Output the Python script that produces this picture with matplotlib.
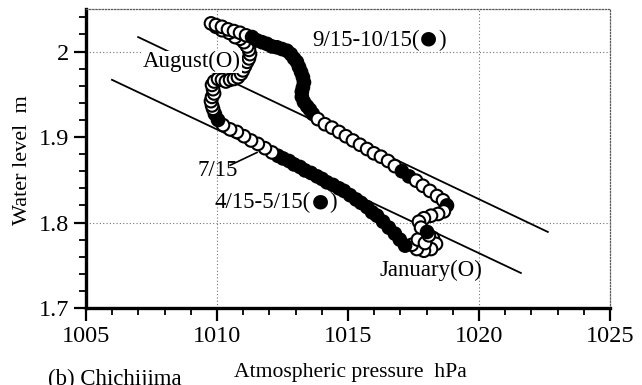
import matplotlib
matplotlib.use("Agg")
import matplotlib.pyplot as plt
import numpy as np
from matplotlib.ticker import MultipleLocator

# ---- data ----
# ordered daily positions of the annual loop
pressure = [
    # January cluster
    1018.24, 1018.36, 1018.17, 1017.90, 1017.63, 1017.44, 1017.67, 1017.94, 1018.09,
    # lower path (filled)
    1017.18, 1016.98, 1016.79, 1016.56, 1016.34, 1016.11, 1015.92, 1015.73, 1015.50,
    1015.31, 1015.08, 1014.85, 1014.66, 1014.43, 1014.20, 1014.01, 1013.82, 1013.59,
    1013.36, 1013.17, 1012.94, 1012.75, 1012.52, 1012.33,
    # lower path (open) toward 7/15
    1012.10, 1011.83, 1011.56, 1011.30, 1011.03, 1010.76, 1010.50, 1010.23,
    1010.04, 1009.92,
    # August band
    1009.85, 1009.81, 1009.77, 1009.81, 1009.89, 1009.85, 1009.81, 1009.89, 1010.04,
    1010.19, 1010.34, 1010.50, 1010.65, 1010.80, 1010.92, 1010.99, 1011.07, 1011.15,
    1011.22, 1011.26, 1011.22, 1011.15, 1011.03, 1010.88, 1010.69,
    1010.46, 1010.19, 1009.96,
    # top row
    1009.77, 1009.96, 1010.19, 1010.42, 1010.65, 1010.88, 1011.11,
    # 9/15-10/15 (filled)
    1011.34, 1011.53, 1011.72, 1011.91, 1012.10, 1012.29, 1012.48, 1012.67, 1012.82,
    1012.94, 1013.05, 1013.13, 1013.21, 1013.28, 1013.32, 1013.28, 1013.24, 1013.24,
    1013.32, 1013.44, 1013.55, 1013.66,
    # autumn/winter (open)
    1013.85, 1014.12, 1014.39, 1014.66, 1014.92, 1015.19, 1015.46, 1015.73, 1015.99,
    1016.26, 1016.53, 1016.79, 1017.06, 1017.33, 1017.60, 1017.86, 1018.13, 1018.40,
    1018.63, 1018.78, 1018.66, 1018.44, 1018.17, 1017.90, 1017.71, 1017.79, 1018.02,
]
water_level = [
    1.782, 1.775, 1.769, 1.767, 1.769, 1.774, 1.780, 1.776, 1.785,
    1.773, 1.780, 1.787, 1.794, 1.801, 1.808, 1.812, 1.818, 1.823,
    1.827, 1.832, 1.837, 1.840, 1.844, 1.847, 1.851, 1.854, 1.858,
    1.861, 1.865, 1.868, 1.872, 1.875, 1.878,
    1.882, 1.887, 1.892, 1.896, 1.901, 1.906, 1.909, 1.914,
    1.920, 1.927,
    1.933, 1.937, 1.942, 1.947, 1.951, 1.956, 1.961, 1.965, 1.968,
    1.967, 1.965, 1.967, 1.968, 1.970, 1.974, 1.978, 1.983, 1.988,
    1.992, 1.997, 2.002, 2.006, 2.011, 2.015, 2.017,
    2.022, 2.025, 2.029,
    2.033, 2.031, 2.029, 2.026, 2.024, 2.022, 2.019,
    2.017, 2.013, 2.011, 2.009, 2.006, 2.005, 2.003, 2.001, 1.997,
    1.992, 1.988, 1.982, 1.976, 1.970, 1.964, 1.958, 1.953, 1.947,
    1.941, 1.936, 1.932, 1.927,
    1.921, 1.915, 1.911, 1.906, 1.901, 1.896, 1.891, 1.886, 1.881,
    1.877, 1.872, 1.866, 1.860, 1.854, 1.849, 1.843, 1.837, 1.831,
    1.826, 1.820, 1.813, 1.810, 1.808, 1.805, 1.801, 1.794, 1.789,
]
filled = (
    [0] * 9 +
    [1] * 24 +
    [0] * 8 + [1] * 2 +
    [0] * 28 +
    [0] * 7 +
    [1] * 22 +
    [0] * 12 + [1, 1] + [0] * 5 + [1] + [0] * 6 + [1]
)

# reference lines (end points)
line_upper_p = [1006.99, 1022.63]
line_upper_w = [2.017, 1.789]
line_lower_p = [1005.99, 1021.60]
line_lower_w = [1.967, 1.741]

xticks = [1005, 1010, 1015, 1020, 1025]
yticks = [1.7, 1.8, 1.9, 2.0]

FONT = ['Liberation Serif', 'DejaVu Sans']
plt.rcParams['font.family'] = FONT

fig = plt.figure(figsize=(6.42, 3.85), dpi=100)
ax = fig.add_axes([0.134, 0.2, 0.816, 0.777])
ax.set_xlim(1005, 1025)
ax.set_ylim(1.7, 2.05)

# dotted grid lines
for gx in [1010, 1020]:
    ax.axvline(gx, color='0.45', lw=0.8, ls=(0, (1, 2)), zorder=0.5)
for gy in [1.8, 2.0]:
    ax.axhline(gy, color='0.45', lw=0.8, ls=(0, (1, 2)), zorder=0.5)

# straight lines
ax.plot(line_upper_p, line_upper_w, color='black', lw=1.3, zorder=1)
ax.plot(line_lower_p, line_lower_w, color='black', lw=1.3, zorder=1)

# data loop
fc = ['black' if f else 'white' for f in filled]
ax.scatter(pressure, water_level, s=82, facecolors=fc, edgecolors='black',
           linewidths=1.5, zorder=2)

# annotations
fs_ann = 16.5


def label_with_disc(x, y, pre, disc, post):
    t1 = ax.text(x, y, pre, fontsize=fs_ann, ha='left', va='center', zorder=4)
    t2 = ax.annotate(disc, xy=(1, 0.5), xycoords=t1, xytext=(0.5, 1.5),
                     textcoords='offset points', fontsize=fs_ann * 0.85,
                     ha='left', va='center', family=['DejaVu Sans'], zorder=4)
    ax.annotate(post, xy=(1, 0.5), xycoords=t2, xytext=(0.5, -1.5),
                textcoords='offset points', fontsize=fs_ann,
                ha='left', va='center', zorder=4)
    return t1


ax.text(1007.18, 1.988, 'August(O)', fontsize=fs_ann, ha='left', va='center', zorder=4,
        bbox=dict(facecolor='white', edgecolor='none', pad=0.5))
label_with_disc(1013.63, 2.013, '9/15-10/15(', '●', ')')
label_with_disc(1009.92, 1.823, '4/15-5/15(', '●', ')')
ax.text(1009.27, 1.861, '7/15', fontsize=fs_ann, ha='left', va='center', zorder=4)
ax.plot([1010.50, 1011.53], [1.867, 1.882], color='black', lw=1.2, zorder=3)
ax.text(1016.22, 1.744, 'January(O)', fontsize=fs_ann, ha='left', va='center', zorder=4)

# axes styling
fs_tick = 17.5
ax.set_xticks(xticks)
ax.set_yticks(yticks)
ax.set_xticklabels([str(v) for v in xticks])
ax.set_yticklabels(['1.7', '1.8', '1.9', '2'])
ax.xaxis.set_minor_locator(MultipleLocator(1))
ax.yaxis.set_minor_locator(MultipleLocator(0.02))
ax.tick_params(which='major', direction='out', length=9, width=1.6,
               labelsize=fs_tick, top=False, right=False)
ax.tick_params(which='minor', direction='out', length=5, width=1.3,
               top=False, right=False)
ax.tick_params(axis='x', which='major', pad=4)
ax.tick_params(axis='y', which='major', pad=3)

for side in ['left', 'bottom']:
    ax.spines[side].set_linewidth(2.4)
for side in ['top', 'right']:
    ax.spines[side].set_linewidth(0.9)
    ax.spines[side].set_linestyle((0, (1, 1.5)))
    ax.spines[side].set_color('0.35')

ax.set_xlabel('Atmospheric pressure  hPa', fontsize=15.6)
ax.set_ylabel('Water level  m', fontsize=16)
ax.xaxis.set_label_coords(0.504, -0.214)
ax.xaxis.label.set_va('center')
ax.yaxis.set_label_coords(-0.122, 0.495)
ax.yaxis.label.set_va('center')

fig.text(48 / 642, 1 - 369 / 385, '(b) Chichijima', fontsize=16.5, ha='left', va='top')

fig.savefig('out.png', dpi=100)
